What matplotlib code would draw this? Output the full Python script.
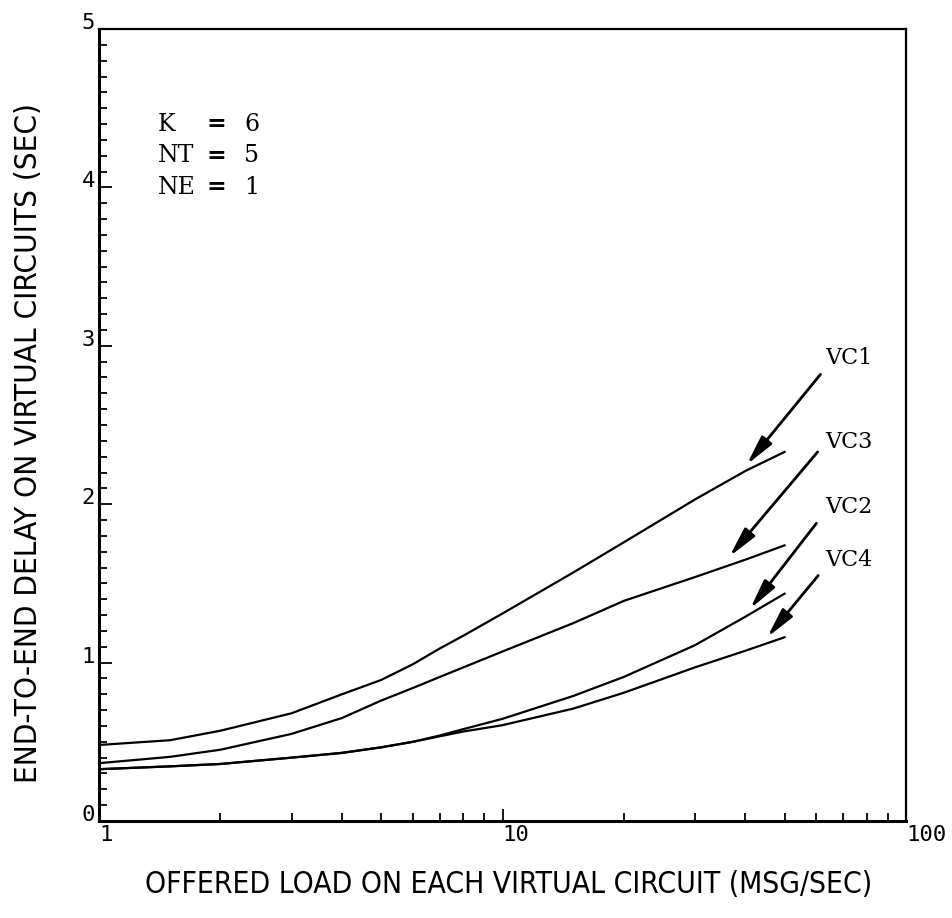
import numpy as np
import matplotlib
matplotlib.use("Agg")
import matplotlib.pyplot as plt
from matplotlib.ticker import FixedLocator, NullFormatter

# offered load (msg/sec)
load = [1, 1.5, 2, 3, 4, 5, 6, 7, 8, 10, 15, 20, 30, 40, 50]

# end-to-end delay (sec) per virtual circuit
vc1 = [0.48, 0.51, 0.57, 0.68, 0.80, 0.89, 0.99, 1.09, 1.17, 1.31, 1.57, 1.76, 2.03, 2.21, 2.33]
vc3 = [0.365, 0.405, 0.45, 0.55, 0.65, 0.76, 0.84, 0.91, 0.97, 1.07, 1.25, 1.39, 1.54, 1.65, 1.74]
vc2 = [0.327, 0.345, 0.36, 0.40, 0.43, 0.465, 0.50, 0.54, 0.58, 0.645, 0.79, 0.91, 1.11, 1.29, 1.435]
vc4 = [0.327, 0.345, 0.36, 0.40, 0.43, 0.465, 0.50, 0.535, 0.565, 0.605, 0.71, 0.81, 0.97, 1.075, 1.16]

# labels: name, label pos, arrow tail, arrow head
labels = [
    ("VC1", (63, 2.92), (61.4, 2.82), (40.3, 2.25)),
    ("VC3", (63, 2.39), (60.4, 2.33), (36.5, 1.67)),
    ("VC2", (63, 1.98), (60.0, 1.88), (41.1, 1.34)),
    ("VC4", (63, 1.65), (60.6, 1.55), (45.3, 1.16)),
]

params = [("K", "6", 4.40), ("NT", "5", 4.20), ("NE", "1", 4.00)]

fig = plt.figure(figsize=(9.52, 9.18), dpi=100)
ax = fig.add_axes([99/952, 1-821/918, 807/952, 792/918])

for ys in (vc1, vc3, vc2, vc4):
    ax.plot(load, ys, color="black", lw=1.6)

ax.set_xscale("log")
ax.set_xlim(1, 100)
ax.set_ylim(0, 5)

for s in ax.spines.values():
    s.set_linewidth(1.6)
ax.spines["left"].set_linewidth(2.2)
ax.spines["bottom"].set_linewidth(2.2)

tickfont = ["DejaVu Sans Mono"]
ax.set_xticks([1, 10, 100])
ax.set_xticklabels(["1", "10", "100"], family=tickfont, fontsize=16, ha="left")
ax.xaxis.set_minor_locator(FixedLocator([2, 3, 4, 5, 6, 7, 8, 9, 20, 30, 40, 50, 60, 70, 80, 90]))
ax.xaxis.set_minor_formatter(NullFormatter())
ax.set_yticks([0, 1, 2, 3, 4, 5])
ax.set_yticklabels(["0", "1", "2", "3", "4", "5"], family=tickfont, fontsize=16, va="baseline")
ax.yaxis.set_minor_locator(FixedLocator(np.arange(0.1, 5.0, 0.1)))

ax.tick_params(which="both", direction="in", top=False, right=False, width=1.3)
ax.tick_params(which="major", length=9, pad=3)
ax.tick_params(which="minor", length=6)

labfont = ["DejaVu Sans"]
ax.set_xlabel("OFFERED LOAD ON EACH VIRTUAL CIRCUIT (MSG/SEC)", family=labfont,
              fontsize=21.5, fontstretch="condensed")
ax.set_ylabel("END-TO-END DELAY ON VIRTUAL CIRCUITS (SEC)", family=labfont,
              fontsize=22.5, fontstretch="condensed")
ax.xaxis.set_label_coords(0.507, -0.062)
ax.yaxis.set_label_coords(-0.069, 0.477)

serif = "DejaVu Serif"
for name, val, y in params:
    ax.text(1.40, y, name, family=serif, fontsize=17, ha="left", va="center")
    ax.text(1.955, y, "=", family=serif, fontsize=17, fontweight="bold", ha="center", va="center")
    ax.text(2.39, y, val, family=serif, fontsize=17, ha="center", va="center")

for name, lp, tail, head in labels:
    ax.text(lp[0], lp[1], name, family=serif, fontsize=16, ha="left", va="center")
    ax.annotate("", xy=head, xytext=tail,
                arrowprops=dict(arrowstyle="-|>,head_length=1.0,head_width=0.22",
                                lw=2.0, color="black", mutation_scale=18,
                                shrinkA=0, shrinkB=0))

fig.savefig("out.png", dpi=100)
